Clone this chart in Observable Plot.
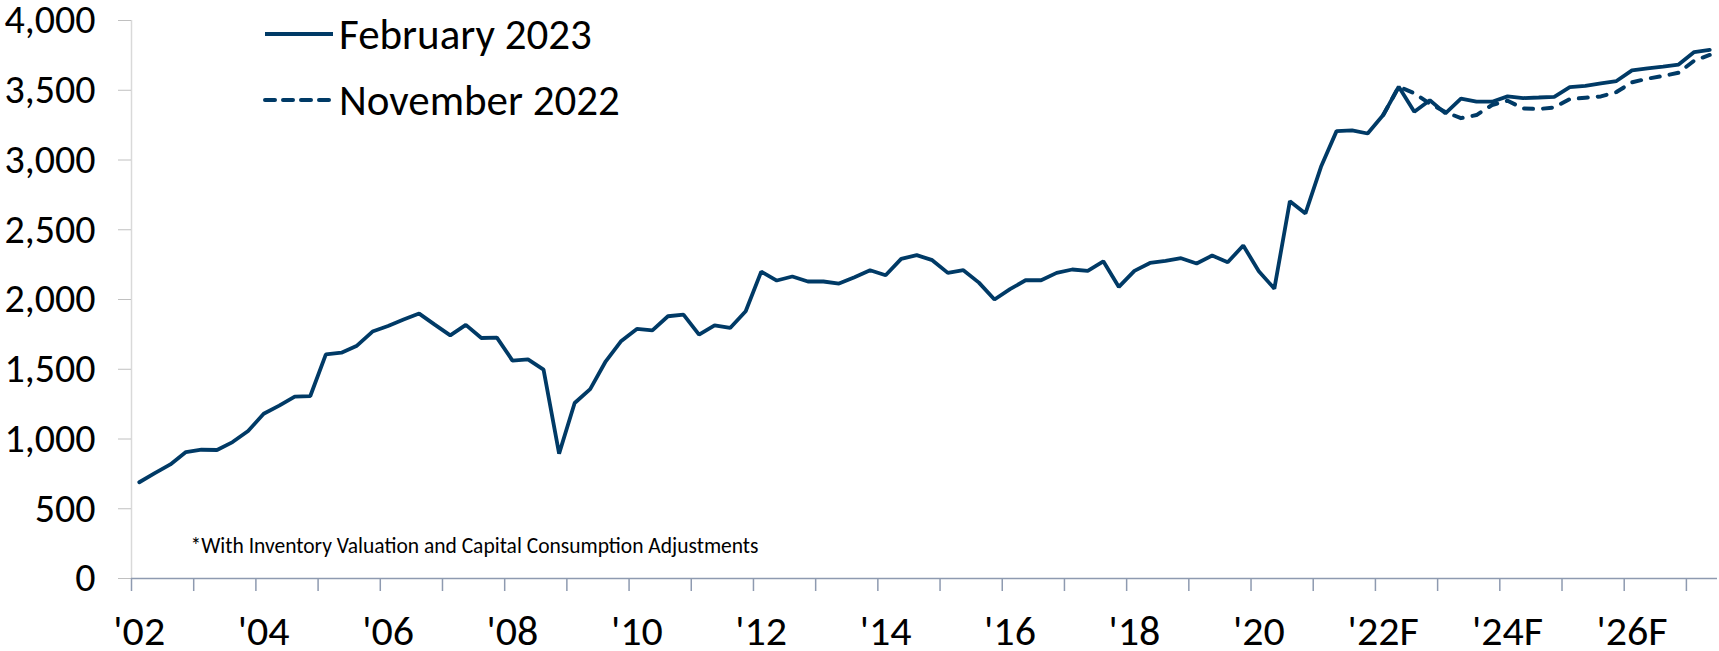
<!DOCTYPE html>
<html>
<head>
<meta charset="utf-8">
<script src="https://cdn.jsdelivr.net/npm/d3@7"></script>
<script src="https://cdn.jsdelivr.net/npm/@observablehq/plot@0.6"></script>
<style>
  html, body { margin: 0; padding: 0; background: #fff; }
  #wrap { position: relative; width: 1719px; height: 651px; font-family: Calibri, Carlito, Roboto, sans-serif; }
  #legend { position: absolute; left: 263px; top: 0px; font-size: 43px; color: #000; }
  #legend .row { position: absolute; left: 0; height: 44px; display: flex; align-items: center; white-space: nowrap; }
  #legend svg { display: block; margin-right: 4px; }
</style>
</head>
<body>
<div id="wrap">
  <div id="legend"></div>
</div>
<script>
// Quarterly values, 2002 Q1 .. 2027 Q2 (February 2023 vintage)
const startYear = 2002;
const feb2023 = [
  690, 755, 818, 906,   923, 921, 978, 1057,   1181, 1239, 1304, 1308,   1607, 1619, 1669, 1770,
  1810, 1856, 1899, 1820,   1743, 1818, 1724, 1727,   1562, 1571, 1497, 895,   1258, 1358, 1557, 1703,
  1789, 1779, 1880, 1892,   1748, 1815, 1796, 1916,   2200, 2136, 2165, 2129,   2129, 2114, 2160, 2210,
  2174, 2291, 2318, 2282,   2191, 2210, 2121, 2000,   2074, 2138, 2138, 2191,   2215, 2205, 2274, 2090,
  2205, 2262, 2277, 2296,   2258, 2315, 2267, 2387,   2203, 2078, 2705, 2617,   2951, 3207, 3212, 3190,
  3322, 3525, 3346, 3428,   3334, 3440, 3418, 3418,   3456, 3444, 3448, 3453,   3522, 3531, 3549, 3566,
  3642, 3657, 3669, 3684,   3774, 3790
];
// November 2022 vintage, 2022 Q1 .. 2027 Q2
const nov2022StartYear = 2022;
const nov2022 = [
  3322, 3525, 3479, 3404,   3344, 3300, 3322, 3394,   3425, 3370, 3365, 3377,   3437, 3446, 3456, 3487,
  3557, 3583, 3602, 3626,   3712, 3753
];
const seriesNames = ["February 2023", "November 2022"];
const yTicks = [0, 500, 1000, 1500, 2000, 2500, 3000, 3500, 4000];
const xLabels = ["'02", "'04", "'06", "'08", "'10", "'12", "'14", "'16", "'18", "'20", "'22F", "'24F", "'26F"];
const note = "*With Inventory Valuation and Capital Consumption Adjustments";

const navy = "#003a66";
const quarterCount = feb2023.length;
const novOffset = (nov2022StartYear - startYear) * 4;

// x is a quarter index; each quarter occupies one unit and points sit at its centre
const rowsFeb = feb2023.map((v, i) => ({q: i + 0.5, v}));
const rowsNov = nov2022.map((v, i) => ({q: novOffset + i + 0.5, v}));
const yearBoundaries = d3.range(0, quarterCount, 4);
const labelPositions = xLabels.map((d, k) => k * 8 + 0.5);

const chart = Plot.plot({
  width: 1719,
  height: 651,
  marginLeft: 131,
  marginRight: 2,
  marginTop: 20,
  marginBottom: 73,
  style: {fontFamily: "Calibri, Carlito, Roboto, sans-serif", background: "#fff", overflow: "visible"},
  x: {domain: [0, quarterCount]},
  y: {domain: [0, 4000]},
  marks: [
    Plot.ruleX([0], {stroke: "#d9d9d9", strokeWidth: 1.5}),
    Plot.axisY(yTicks, {tickSize: 13, tickPadding: 23, tickFormat: d3.format(","), fontSize: 40, stroke: "#c0c0c0", fill: "#000", label: null}),
    Plot.axisX(yearBoundaries, {tickSize: 13, tickFormat: () => "", stroke: "#8e9ab0", strokeWidth: 1.5, label: null}),
    Plot.axisX(labelPositions, {tickSize: 0, tickPadding: 37, fontSize: 42, fill: "#000", label: null,
      tickFormat: d => xLabels[Math.round((d - 0.5) / 8)]}),
    Plot.ruleY([0], {stroke: "#8e9ab0", strokeWidth: 1.5}),
    Plot.text([note], {frameAnchor: "bottom-left", dx: 59, dy: -26, textAnchor: "start", lineAnchor: "bottom", fontSize: 21.5, fill: "#000"}),
    Plot.line(rowsNov, {x: "q", y: "v", stroke: navy, strokeWidth: 4, strokeDasharray: "9,10", strokeLinecap: "round"}),
    Plot.line(rowsFeb, {x: "q", y: "v", stroke: navy, strokeWidth: 3.8, strokeLinejoin: "miter"})
  ]
});
document.getElementById("wrap").prepend(chart);

// Legend
const legend = document.getElementById("legend");
seriesNames.forEach((name, k) => {
  const row = document.createElement("div");
  row.className = "row";
  row.style.top = (12 + k * 66) + "px";
  const dash = k === 0 ? "" : ` stroke-dasharray="10,8" stroke-linecap="round"`;
  row.innerHTML = `<svg width="72" height="8"><line x1="2" x2="70" y1="4" y2="4" stroke="${navy}" stroke-width="4"${dash}/></svg><span>${name}</span>`;
  legend.appendChild(row);
});
</script>
</body>
</html>
